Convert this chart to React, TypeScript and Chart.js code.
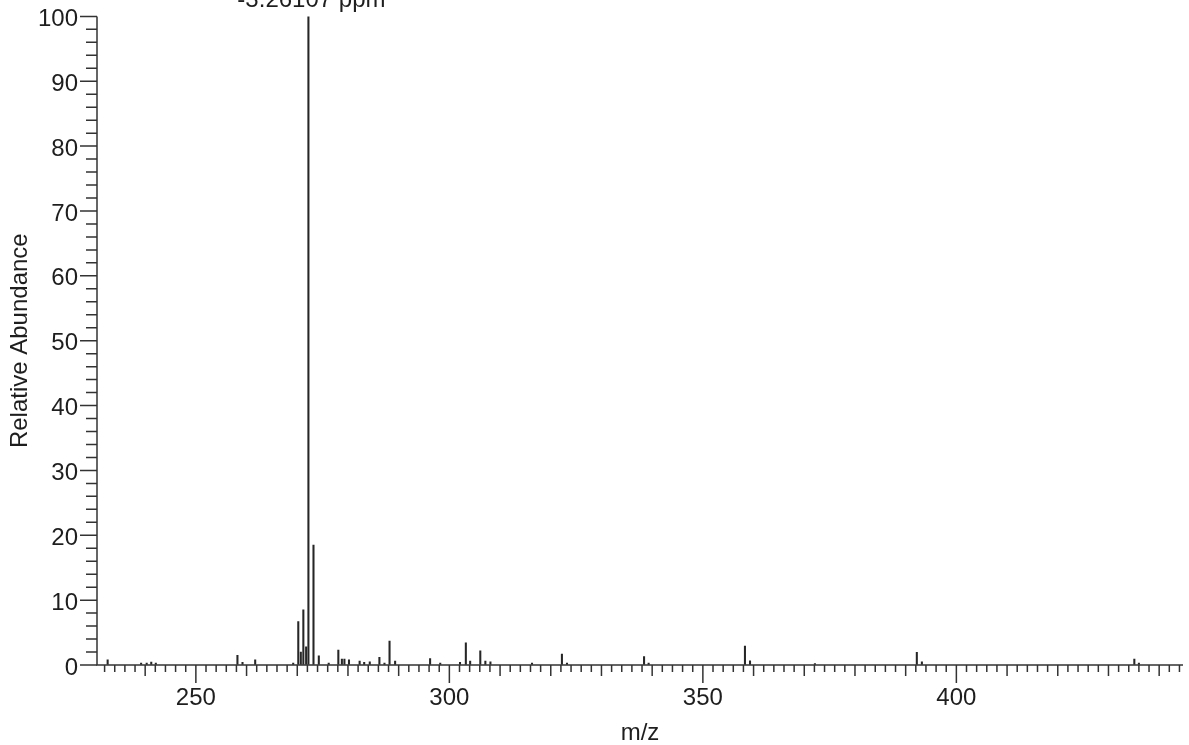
import { useEffect, useRef } from 'react';
import { Chart, registerables } from 'chart.js';

Chart.register(...registerables);

// m/z of each centroid peak
const mzValues = [
  232.6, 239.2, 240.3, 241.2, 242.1, 258.2, 259.2, 261.7, 269.2, 270.2,
  270.7, 271.2, 271.75, 272.2, 273.2, 274.25, 276.2, 278.1, 278.8, 279.3,
  280.2, 282.3, 283.2, 284.3, 286.2, 287.2, 288.2, 289.3, 296.2, 298.2,
  302.1, 303.25, 304.1, 306.1, 307.1, 308.1, 316.3, 322.2, 323.2, 338.4,
  339.3, 358.3, 359.3, 372.1, 392.2, 393.2, 435.1, 436.0,
];

// relative abundance (%) of each peak
const abundances = [
  0.8, 0.3, 0.3, 0.45, 0.3, 1.5, 0.4, 0.8, 0.3, 6.7,
  2.0, 8.5, 2.8, 100, 18.5, 1.4, 0.3, 2.3, 0.9, 0.9,
  0.8, 0.6, 0.4, 0.5, 1.2, 0.3, 3.7, 0.6, 1.0, 0.3,
  0.4, 3.4, 0.6, 2.2, 0.6, 0.5, 0.3, 1.7, 0.3, 1.3,
  0.3, 2.9, 0.65, 0.2, 1.95, 0.5, 0.9, 0.3,
];

const xTickLabels = [250, 300, 350, 400];
const yTickLabels = [0, 10, 20, 30, 40, 50, 60, 70, 80, 90, 100];

const annotatedMz = 272.2;
const annotationText = '-3.26107 ppm';

const X_MIN = 230.5;
const X_MAX = 444.7;

const FONT = '"Liberation Sans", Arial, Helvetica, sans-serif';
const TEXT = '#1e1e1e';
const AXIS = '#333333';

const axesPlugin = {
  id: 'spectrumAxes',
  afterDraw(chart: any) {
    const { ctx, chartArea } = chart;
    const xs = chart.scales.x;
    const ys = chart.scales.y;
    ctx.save();
    ctx.strokeStyle = AXIS;
    ctx.lineWidth = 1.5;
    ctx.lineCap = 'butt';
    // axis lines
    ctx.beginPath();
    ctx.moveTo(chartArea.left, chartArea.top);
    ctx.lineTo(chartArea.left, chartArea.bottom);
    ctx.lineTo(chartArea.right, chartArea.bottom);
    ctx.stroke();
    // x ticks every 2, longer every 10, longest every 50
    ctx.beginPath();
    for (let v = Math.ceil(X_MIN / 2) * 2; v <= X_MAX; v += 2) {
      const px = xs.getPixelForValue(v);
      const len = v % 50 === 0 ? 18 : v % 10 === 0 ? 11 : 7;
      ctx.moveTo(px, chartArea.bottom);
      ctx.lineTo(px, chartArea.bottom + len);
    }
    // y ticks every 2, longer every 10
    for (let v = 0; v <= 100; v += 2) {
      const py = ys.getPixelForValue(v);
      const len = v % 10 === 0 ? 17 : 11;
      ctx.moveTo(chartArea.left, py);
      ctx.lineTo(chartArea.left - len, py);
    }
    ctx.stroke();
    // peak annotation
    ctx.fillStyle = TEXT;
    ctx.font = `24px ${FONT}`;
    ctx.textAlign = 'center';
    ctx.textBaseline = 'alphabetic';
    ctx.fillText(annotationText, xs.getPixelForValue(annotatedMz) + 3, 6.5);
    ctx.restore();
  },
};

export default function App() {
  const ref = useRef<HTMLCanvasElement | null>(null);

  useEffect(() => {
    if (!ref.current) return;
    const chart = new Chart(ref.current, {
      type: 'bar',
      data: {
        datasets: [
          {
            data: mzValues.map((x, i) => ({ x, y: abundances[i] })),
            backgroundColor: '#262626',
            borderWidth: 0,
            barThickness: 1.4,
          } as any,
        ],
      },
      options: {
        animation: false,
        responsive: false,
        layout: { padding: { left: 0, right: 6, top: 16, bottom: 0 } },
        plugins: {
          legend: { display: false },
          tooltip: { enabled: false },
        },
        scales: {
          x: {
            type: 'linear',
            min: X_MIN,
            max: X_MAX,
            offset: false,
            afterBuildTicks: (s: any) => {
              s.ticks = xTickLabels.map((v) => ({ value: v }));
            },
            afterFit: (s: any) => {
              s.height = 80;
            },
            grid: {
              display: true,
              drawOnChartArea: false,
              drawTicks: true,
              tickLength: 18,
              color: 'rgba(0,0,0,0)',
              tickColor: 'rgba(0,0,0,0)',
            },
            border: { display: false },
            ticks: {
              padding: 1,
              color: TEXT,
              font: { family: FONT, size: 24 },
              maxRotation: 0,
              autoSkip: false,
              callback: (v: any) => String(v),
            },
            title: {
              display: true,
              text: 'm/z',
              color: TEXT,
              font: { family: FONT, size: 24, lineHeight: 1 },
              padding: { top: 0, bottom: 0 },
            },
          },
          y: {
            type: 'linear',
            min: 0,
            max: 100,
            afterBuildTicks: (s: any) => {
              s.ticks = yTickLabels.map((v) => ({ value: v }));
            },
            afterFit: (s: any) => {
              s.width = 97;
            },
            grid: {
              display: true,
              drawOnChartArea: false,
              drawTicks: true,
              tickLength: 17,
              color: 'rgba(0,0,0,0)',
              tickColor: 'rgba(0,0,0,0)',
            },
            border: { display: false },
            ticks: {
              padding: 2,
              labelOffset: 3,
              color: TEXT,
              font: { family: FONT, size: 24 },
              autoSkip: false,
              callback: (v: any) => String(v),
            },
            title: {
              display: true,
              text: 'Relative Abundance',
              color: TEXT,
              font: { family: FONT, size: 24, lineHeight: 1.2 },
              padding: { top: 5.5, bottom: 0 },
            },
          },
        },
      } as any,
      plugins: [axesPlugin],
    });
    return () => chart.destroy();
  }, []);

  return (
    <div style={{ position: 'fixed', left: 0, top: 0, width: 1189, height: 745, background: '#fff' }}>
      <canvas ref={ref} width={1189} height={745} style={{ display: 'block' }} />
    </div>
  );
}
